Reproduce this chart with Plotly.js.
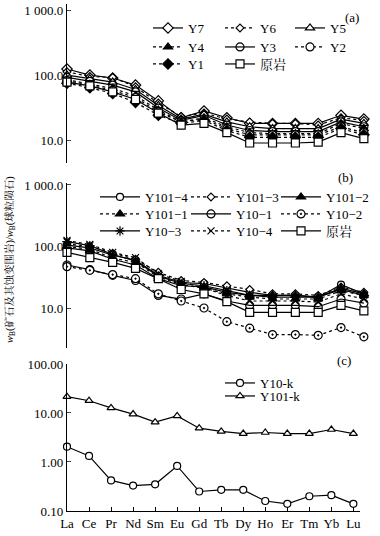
<!DOCTYPE html>
<html>
<head>
<meta charset="utf-8">
<script src="https://cdn.plot.ly/plotly-3.0.1.min.js"></script>
<style>
  body { margin: 0; background: #fff; }
  #chart { width: 380px; height: 536px; }
</style>
</head>
<body>
<div id="chart"></div>
<script>
// REE elements (x categories)
const ree = ["La", "Ce", "Pr", "Nd", "Sm", "Eu", "Gd", "Tb", "Dy", "Ho", "Er", "Tm", "Yb", "Lu"];

// panel (a)
const a_y7 = [124, 100, 90, 70, 40, 22, 28, 22, 18, 18, 18, 18, 24, 21];
const a_y6 = [112, 95, 92, 66, 37, 23, 26, 21, 19, 18, 18, 17, 22, 20];
const a_y5 = [100, 88, 78, 60, 34, 21, 25, 19, 16, 15, 15, 15, 21, 18];
const a_y4 = [85, 72, 62, 48, 29, 19, 22, 16, 13, 12.5, 12.5, 12.5, 18, 15];
const a_y3 = [92, 80, 70, 55, 31, 20, 24, 17, 14, 13.5, 13.5, 13.5, 19, 16];
const a_y2 = [82, 70, 58, 45, 27, 19, 21, 15, 12, 12, 12, 12, 16, 13];
const a_y1 = [75, 64, 52, 38, 24, 18, 20, 14, 11, 11, 11, 11, 15, 12];
const a_rock = [78, 68, 55, 42, 26, 17, 18, 13, 9, 9, 9, 9.3, 13, 10.5];

// panel (b)
const b_y101_4 = [105, 95, 72, 60, 34, 26, 25, 21, 18, 16, 16, 15, 24, 17];
const b_y101_3 = [110, 100, 78, 62, 38, 28, 26, 23, 20, 17, 17, 16, 22, 18];
const b_y101_2 = [95, 85, 62, 50, 30, 23, 22, 18, 16, 16, 16, 15, 21, 17];
const b_y101_1 = [100, 90, 65, 55, 32, 24, 21, 17, 15, 14, 14, 14, 19, 16];
const b_y10_1 = [50, 42, 34, 28, 16, 14, 17, 13, 11, 11, 11, 10.5, 14, 12];
const b_y10_2 = [47, 41, 35, 30, 17, 13, 10, 6, 4.7, 3.7, 3.7, 3.6, 4.8, 3.4];
const b_y10_3 = [120, 103, 74, 58, 33, 25, 23, 19, 16, 15, 15, 15, 20, 16];
const b_y10_4 = [125, 108, 80, 66, 36, 27, 21, 16, 13, 13, 13, 12.5, 17, 14];
const b_rock = [80, 66, 55, 44, 30, 20, 17, 12.7, 8.5, 8.5, 8.5, 8.5, 11, 9];

// panel (c)
const c_y10k = [2.05, 1.33, 0.42, 0.33, 0.35, 0.83, 0.25, 0.27, 0.27, 0.16, 0.14, 0.20, 0.21, 0.14];
const c_y101k = [21.5, 17.8, 12.7, 9.5, 6.5, 8.7, 4.9, 4.2, 3.8, 4.0, 3.8, 3.8, 4.6, 3.8];

const serif = "Liberation Serif, Noto Serif CJK SC, Noto Sans CJK SC, serif";

// plot area: x 67..373, y 0..511 (px)
function px2x(px) { return (px - 67) / 306; }
function px2y(py) { return (511 - py) / 511; }

var layout = {
  width: 380,
  height: 536,
  margin: { l: 67, r: 7, t: 0, b: 25 },
  paper_bgcolor: "white",
  plot_bgcolor: "white",
  font: { family: serif, size: 13, color: "black" },
  showlegend: true,
};

var legendCount = 0;
// one legend box per series so each entry sits where the figure puts it
function mk(name, y, xa, ya, dash, symbol, fill, size, lx, ly, iw) {
  legendCount++;
  var key = legendCount === 1 ? "legend" : "legend" + legendCount;
  layout[key] = {
    x: px2x(lx), y: px2y(ly), xanchor: "left", yanchor: "middle",
    bgcolor: "rgba(0,0,0,0)",
    font: { family: serif, size: 13, color: "black" },
    itemwidth: iw || 30, borderwidth: 0,
  };
  return {
    x: ree,
    y: y,
    xaxis: xa,
    yaxis: ya,
    name: name,
    mode: "lines+markers",
    line: { color: "black", width: 1.2, dash: dash },
    marker: { symbol: symbol, size: size, color: fill, line: { color: "black", width: 1.2 } },
    cliponaxis: false,
    legend: key,
  };
}

var traces = [
  mk("Y7", a_y7, "x", "y", "solid", "diamond", "white", 8, 148, 28),
  mk("Y6", a_y6, "x", "y", "dot", "diamond", "white", 6, 220, 28),
  mk("Y5", a_y5, "x", "y", "solid", "triangle-up", "white", 8, 290, 28),
  mk("Y4", a_y4, "x", "y", "dot", "triangle-up", "black", 8, 148, 47),
  mk("Y3", a_y3, "x", "y", "solid", "circle-open", "black", 8, 220, 47),
  mk("Y2", a_y2, "x", "y", "dot", "circle", "white", 8, 290, 47),
  mk("Y1", a_y1, "x", "y", "dot", "diamond", "black", 8, 148, 64),
  mk("原岩", a_rock, "x", "y", "solid", "square", "white", 8, 220, 64),

  mk("Y101−4", b_y101_4, "x2", "y2", "solid", "circle", "white", 7, 95, 197, 40),
  mk("Y101−3", b_y101_3, "x2", "y2", "dot", "diamond", "white", 6, 186, 197, 40),
  mk("Y101−2", b_y101_2, "x2", "y2", "solid", "triangle-up", "black", 8, 276, 197, 40),
  mk("Y101−1", b_y101_1, "x2", "y2", "dot", "triangle-up", "black", 8, 95, 214, 40),
  mk("Y10−1", b_y10_1, "x2", "y2", "solid", "circle-open", "black", 8, 186, 214, 40),
  mk("Y10−2", b_y10_2, "x2", "y2", "dot", "circle-dot", "white", 8, 276, 214, 40),
  mk("Y10−3", b_y10_3, "x2", "y2", "solid", "asterisk-open", "black", 8, 95, 231, 40),
  mk("Y10−4", b_y10_4, "x2", "y2", "dot", "x-thin-open", "black", 7, 186, 231, 40),
  mk("原岩", b_rock, "x2", "y2", "solid", "square", "white", 8, 276, 231, 40),

  mk("Y10-k", c_y10k, "x3", "y3", "solid", "circle", "white", 7, 220, 383),
  mk("Y101-k", c_y101k, "x3", "y3", "solid", "triangle-up", "white", 7, 220, 396),
];

var hidX = { type: "category", categoryarray: ree, range: [0, 13.4], visible: false };
var yFont = { family: serif, size: 13, color: "black" };

Object.assign(layout, {
  xaxis: Object.assign({ anchor: "y" }, hidX),
  xaxis2: Object.assign({ anchor: "y2" }, hidX),
  xaxis3: {
    anchor: "y3", type: "category", categoryarray: ree,
    domain: [0, 0.9575], range: [0, 13.3],
    showline: true, linecolor: "black", linewidth: 1.2,
    ticks: "inside", ticklen: 4, tickcolor: "black",
    showgrid: false, zeroline: false,
    tickfont: { family: serif, size: 13, color: "black" },
  },
  yaxis: {
    type: "log", domain: [0.681, 0.992], range: [0.646, 3.092],
    showline: true, linecolor: "black", linewidth: 1.2,
    ticks: "inside", ticklen: 4, showgrid: false, zeroline: false,
    tickvals: [10, 100, 1000], ticktext: ["10.0", "100.0", "1 000.0"],
    tickfont: yFont, anchor: "x",
  },
  yaxis2: {
    type: "log", domain: [0.319, 0.642], range: [0.35, 3.033],
    showline: true, linecolor: "black", linewidth: 1.2,
    ticks: "inside", ticklen: 4, showgrid: false, zeroline: false,
    tickvals: [10, 100, 1000], ticktext: ["10.0", "100.0", "1 000.0"],
    tickfont: yFont, anchor: "x2",
  },
  yaxis3: {
    type: "log", domain: [0, 0.2877], range: [-1, 2],
    showline: true, linecolor: "black", linewidth: 1.2,
    ticks: "inside", ticklen: 4, showgrid: false, zeroline: false,
    tickvals: [0.1, 1, 10, 100], ticktext: ["0.10", "1.00", "10.00", "100.00"],
    tickfont: yFont, anchor: "x3",
  },
  annotations: [
    { text: "(a)", x: px2x(361), y: px2y(8), xref: "paper", yref: "paper", showarrow: false, font: { family: serif, size: 13 } },
    { text: "(b)", x: px2x(355), y: px2y(177), xref: "paper", yref: "paper", showarrow: false, font: { family: serif, size: 13 } },
    { text: "(c)", x: px2x(353), y: px2y(370), xref: "paper", yref: "paper", showarrow: false, font: { family: serif, size: 13 } },
    {
      text: "<i>w</i><sub>B</sub>(矿石及其蚀变围岩)/<i>w</i><sub>B</sub>(球粒陨石)",
      x: px2x(10), y: px2y(260), xref: "paper", yref: "paper", xanchor: "center", yanchor: "middle",
      showarrow: false, textangle: -90,
      font: { family: serif, size: 10.5 },
    },
  ],
});

Plotly.newPlot("chart", traces, layout, { displayModeBar: false, staticPlot: true });
</script>
</body>
</html>
